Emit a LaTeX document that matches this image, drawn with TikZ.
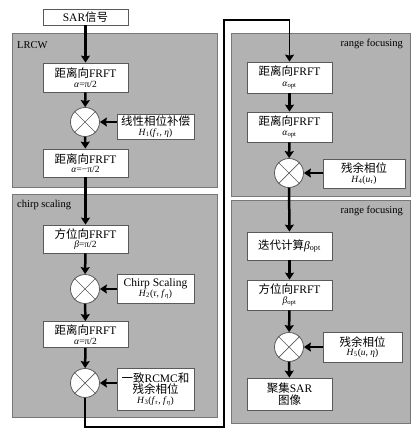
\documentclass[tikz,border=0pt]{standalone}
\usepackage{fontspec}
\setmainfont{Liberation Serif}
\newfontfamily\cjk{Noto Sans CJK SC}
\usetikzlibrary{arrows.meta,calc}
\newcommand{\zh}[1]{{\cjk #1}}
\newcommand{\ti}[1]{\textit{#1}}
\newcommand{\sbs}[1]{\textsubscript{#1}}
\newcommand{\sml}{\fontsize{9.5}{10}\selectfont}
\definecolor{panelfill}{RGB}{178,178,178}
\definecolor{panelline}{RGB}{120,120,120}
\definecolor{boxline}{RGB}{90,90,90}
\tikzset{
  panel/.style={fill=panelfill,draw=panelline,line width=1pt},
  blk/.style={draw=boxline,fill=white,line width=0.8pt,minimum width=85pt,inner sep=1pt,align=center,font=\fontsize{11.5}{12.5}\selectfont},
  side/.style={draw=boxline,fill=white,line width=0.8pt,inner sep=1pt,align=center,font=\fontsize{11.5}{12.5}\selectfont},
  mult/.style={circle,draw=boxline,fill=white,line width=0.8pt,minimum size=29pt,inner sep=0pt},
  flow/.style={line width=2.5pt,-{Stealth[length=7pt,width=9pt,inset=1pt]}},
  loopline/.style={line width=1.8pt},
  plabel/.style={font=\fontsize{10.5}{12}\selectfont,inner sep=0pt}
}
\newcommand{\xmark}[1]{\draw[boxline,line width=0.7pt] (#1.north west)--(#1.south east) (#1.north east)--(#1.south west);}
\begin{document}
\begin{tikzpicture}[x=1pt,y=-1pt]
\useasboundingbox (0,0) rectangle (415,434);
% panels
\draw[panel] (12,33) rectangle (217,187);
\draw[panel] (12,194) rectangle (217,417);
\draw[panel] (231,33) rectangle (410,196);
\draw[panel] (231,200) rectangle (410,423);
\node[plabel,anchor=west] (lrcw) at (17,45) {LRCW};
\node[plabel,anchor=west] (cs) at (17,205) {chirp scaling};
\node[plabel,anchor=east] (rf1) at (403,44) {range focusing};
\node[plabel,anchor=east] (rf2) at (403,211) {range focusing};
% left column
\node[blk,minimum height=16pt] (sar) at (85.5,17) {SAR\zh{信号}};
\node[blk,minimum height=29pt] (b1) at (85.5,77.5) {\zh{距离向}FRFT\\[-3pt]{\sml\ti{α}=π/2}};
\node[mult] (m1) at (85,122) {}; \xmark{m1}
\node[side,minimum width=77pt,minimum height=25pt] (s1) at (155.5,126.5) {\zh{线性相位补偿}\\[-3pt]{\sml\ti{H}\sbs{1}(\ti{f}\sbs{\ti{τ}}, \ti{η})}};
\node[blk,minimum height=28pt] (b2) at (85.5,163) {\zh{距离向}FRFT\\[-3pt]{\sml\ti{α}=−π/2}};
\node[blk,minimum height=28pt] (b3) at (85.5,239) {\zh{方位向}FRFT\\[-3pt]{\sml\ti{β}=π/2}};
\node[mult] (m2) at (85,289) {}; \xmark{m2}
\node[side,minimum width=77pt,minimum height=29pt] (s2) at (155.5,288.5) {Chirp Scaling\\[-2pt]{\sml\ti{H}\sbs{2}(\ti{τ}, \ti{f}\sbs{\ti{η}})}};
\node[blk,minimum height=26pt] (b4) at (85.5,334.5) {\zh{距离向}FRFT\\[-3pt]{\sml\ti{α}=π/2}};
\node[mult] (m3) at (85,383) {}; \xmark{m3}
\node[side,minimum width=77pt,minimum height=42pt] (s3) at (155.5,389) {\zh{一致}RCMC\zh{和}\\[-1pt]\zh{残余相位}\\[-3pt]{\sml\ti{H}\sbs{3}(\ti{f}\sbs{\ti{τ}}, \ti{f}\sbs{\ti{η}})}};
% right column
\node[blk,minimum height=31pt] (r1) at (289.5,77.5) {\zh{距离向}FRFT\\[-2pt]{\sml\ti{α}\sbs{opt}}};
\node[blk,minimum height=30pt] (r2) at (289.5,127) {\zh{距离向}FRFT\\[-2pt]{\sml\ti{α}\sbs{opt}}};
\node[mult] (m4) at (289,173) {}; \xmark{m4}
\node[side,minimum width=82pt,minimum height=29pt] (s4) at (364,173.5) {\zh{残余相位}\\[-3pt]{\sml\ti{H}\sbs{4}(\ti{u}\sbs{\ti{τ}})}};
\node[blk,minimum height=28pt] (r3) at (289.5,246) {\zh{迭代计算}\ti{β}\sbs{opt}};
\node[blk,minimum height=30pt] (r4) at (289.5,295) {\zh{方位向}FRFT\\[-2pt]{\sml\ti{β}\sbs{opt}}};
\node[mult] (m5) at (289,347) {}; \xmark{m5}
\node[side,minimum width=79pt,minimum height=30pt] (s5) at (362.5,347) {\zh{残余相位}\\[-3pt]{\sml\ti{H}\sbs{5}(\ti{u}, \ti{η})}};
\node[blk,minimum height=32pt] (r5) at (289.5,394) {\zh{聚集}SAR\\[-1pt]\zh{图像}};
% connectors left
\draw[flow] (sar) -- (b1);
\draw[flow] (b1) -- (m1);
\draw[flow] (s1.west |- m1) -- (m1);
\draw[flow] (m1) -- (b2);
\draw[flow] (b2) -- (b3);
\draw[flow] (b3) -- (m2);
\draw[flow] (s2.west |- m2) -- (m2);
\draw[flow] (m2) -- (b4);
\draw[flow] (b4) -- (m3);
\draw[flow] (s3.west |- m3) -- (m3);
% loop
\coordinate (c1) at (85,427);
\coordinate (c2) at (224,427);
\coordinate (c3) at (224,20);
\coordinate (c4) at (289.5,20);
\draw[loopline,line join=miter] (m3.south) -- (c1) -- (c2) -- (c3) -- (c4) -- ++(0,2);
\draw[flow,line width=1.8pt] (c4) -- (r1);
% connectors right
\draw[flow] (r1) -- (r2);
\draw[flow] (r2) -- (m4);
\draw[flow] (s4.west |- m4) -- (m4);
\draw[flow] (m4) -- (r3);
\draw[flow] (r3) -- (r4);
\draw[flow] (r4) -- (m5);
\draw[flow] (s5.west |- m5) -- (m5);
\draw[flow] (m5) -- (r5);
\end{tikzpicture}
\end{document}
